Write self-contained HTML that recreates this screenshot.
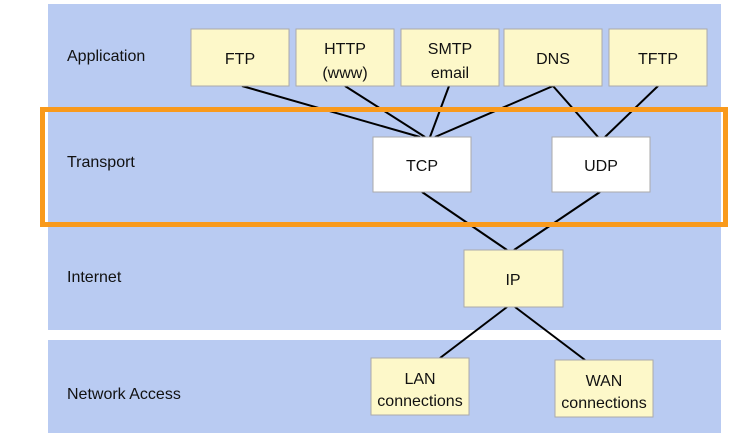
<!DOCTYPE html>
<html><head><style>
body{margin:0;width:740px;height:433px;background:#fff;overflow:hidden;font-family:"Liberation Sans",sans-serif;}
</style></head><body>
<svg width="740" height="433" xmlns="http://www.w3.org/2000/svg" font-family="Liberation Sans, sans-serif">
<rect x="48" y="4" width="673" height="326" fill="#b9cbf2"/>
<rect x="48" y="340" width="673" height="93" fill="#b9cbf2"/>
<g stroke="#000" stroke-width="2">
<line x1="242" y1="86" x2="420" y2="137"/>
<line x1="345" y1="86" x2="425" y2="137"/>
<line x1="449" y1="86" x2="430" y2="137"/>
<line x1="553" y1="86" x2="435" y2="137"/>
<line x1="553" y1="86" x2="598" y2="137"/>
<line x1="658" y1="86" x2="605" y2="137"/>
<line x1="422" y1="192" x2="507" y2="250"/>
<line x1="600" y1="192" x2="514" y2="250"/>
<line x1="507" y1="307" x2="440" y2="358"/>
<line x1="515" y1="307" x2="585" y2="360"/>
</g>
<rect x="42.5" y="109.5" width="683" height="115" fill="none" stroke="#f99a1c" stroke-width="5"/>
<g stroke="#aaa" stroke-width="1" fill="#fdf8c9">
<rect x="191" y="29" width="98" height="57"/>
<rect x="296" y="29" width="98" height="57"/>
<rect x="401" y="29" width="98" height="57"/>
<rect x="504" y="29" width="98" height="57"/>
<rect x="609" y="29" width="98" height="57"/>
<rect x="464" y="250" width="99" height="57"/>
<rect x="371" y="358" width="98" height="57"/>
<rect x="555" y="360" width="98" height="57"/>
<rect x="373" y="137" width="98" height="55" fill="#fff"/>
<rect x="552" y="137" width="98" height="55" fill="#fff"/>
</g>
<g font-size="16" fill="#111" text-anchor="middle">
<text x="240" y="64">FTP</text>
<text x="345" y="54">HTTP</text><text x="345" y="78">(www)</text>
<text x="450" y="54">SMTP</text><text x="450" y="78">email</text>
<text x="553" y="64">DNS</text>
<text x="658" y="64">TFTP</text>
<text x="422" y="171">TCP</text>
<text x="601" y="171">UDP</text>
<text x="513" y="285">IP</text>
<text x="420" y="384">LAN</text><text x="420" y="406">connections</text>
<text x="604" y="386">WAN</text><text x="604" y="408">connections</text>
</g>
<g font-size="16" fill="#111">
<text x="67" y="61">Application</text>
<text x="67" y="167">Transport</text>
<text x="67" y="282">Internet</text>
<text x="67" y="399">Network Access</text>
</g>
</svg>
</body></html>
